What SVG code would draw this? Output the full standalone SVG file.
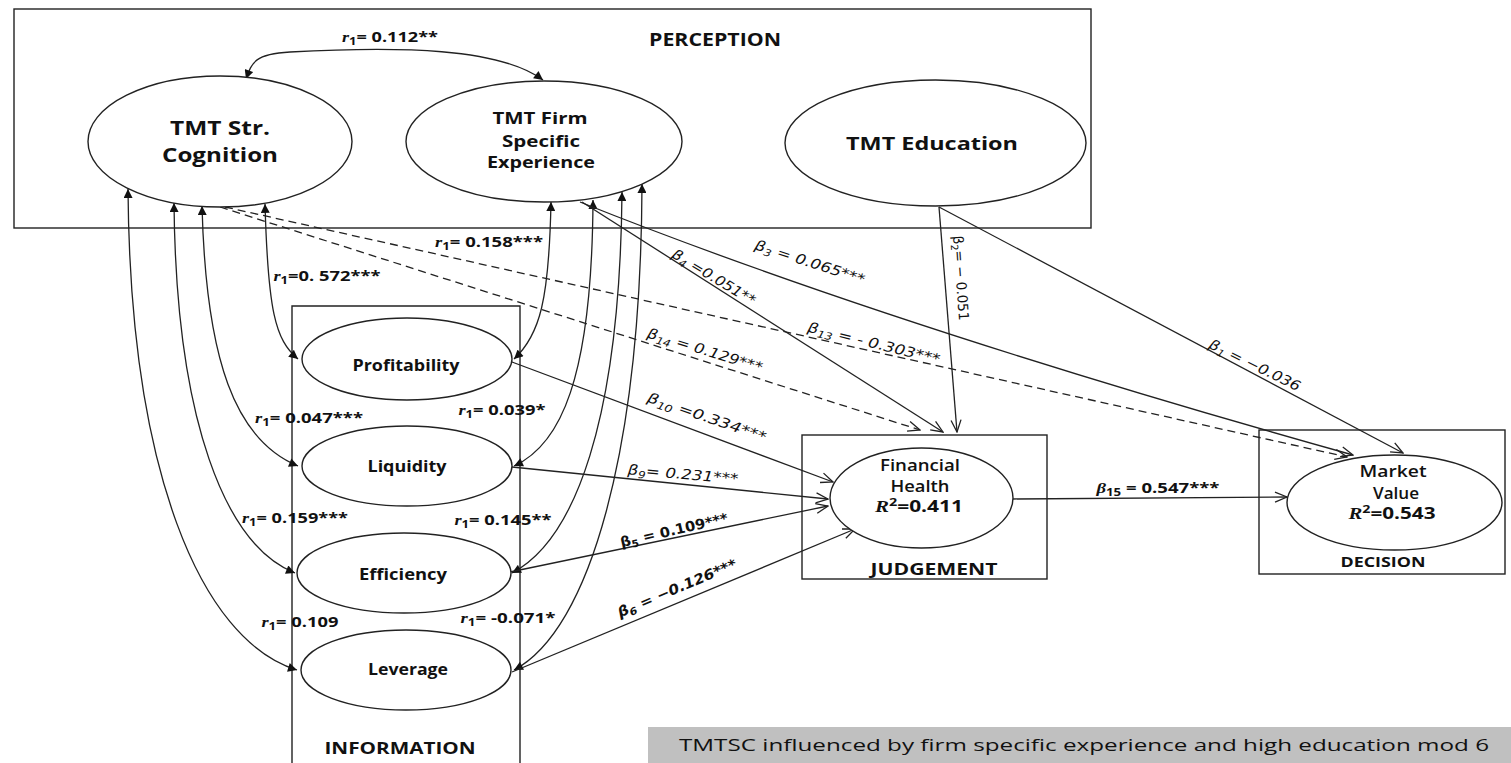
<svg xmlns="http://www.w3.org/2000/svg" width="1511" height="763" viewBox="0 0 1511 763">
  <style>
    .box { fill: none; stroke: #222; stroke-width: 1.4; }
    .node { fill: #fff; stroke: #222; stroke-width: 1.4; }
    .t { font-family: "Open Sans", "Liberation Sans", sans-serif; fill: #111; text-anchor: middle; }
    .b { font-weight: bold; }
    .sb { font-weight: 600; }
    .lab { font-family: "Open Sans", "Liberation Sans", sans-serif; font-weight: bold; font-size: 14px; fill: #111; text-anchor: middle; }
    .beta { font-family: "DejaVu Sans", "Liberation Sans", sans-serif; font-style: italic; font-size: 14px; fill: #111; text-anchor: middle; }
    .var { font-family: "Liberation Serif", serif; font-style: italic; }
    .cor { fill: none; stroke: #222; stroke-width: 1.3; marker-start: url(#tri); marker-end: url(#tri); }
    .path { fill: none; stroke: #222; stroke-width: 1.3; marker-end: url(#open); }
    .dash { stroke-dasharray: 8 5; }
  </style>
  <defs>
    <marker id="tri" viewBox="0 0 10 10" refX="10" refY="5" markerWidth="10" markerHeight="9" markerUnits="userSpaceOnUse" orient="auto-start-reverse">
      <path d="M0,0 L10,5 L0,10 z" fill="#111"/>
    </marker>
    <marker id="open" viewBox="0 0 14 12" refX="13" refY="6" markerWidth="14" markerHeight="12" markerUnits="userSpaceOnUse" orient="auto">
      <path d="M1,1 L13,6 L1,11" fill="none" stroke="#222" stroke-width="1.3"/>
    </marker>
  </defs>
  <rect width="1511" height="763" fill="#fff"/>

  <!-- construct boxes -->
  <g id="perception">
    <rect class="box" x="14" y="9" width="1077" height="219"/>
    <text class="t b" x="715" y="46" font-size="17" textLength="132" lengthAdjust="spacingAndGlyphs">PERCEPTION</text>
  </g>
  <g id="information">
    <path class="box" d="M292,770 V306 H520 V770"/>
    <text class="t b" x="400" y="754" font-size="16" textLength="151" lengthAdjust="spacingAndGlyphs">INFORMATION</text>
  </g>
  <g id="judgement">
    <rect class="box" x="802" y="435" width="245" height="144"/>
    <text class="t b" x="934" y="575" font-size="16" textLength="127" lengthAdjust="spacingAndGlyphs">JUDGEMENT</text>
  </g>
  <g id="decision">
    <rect class="box" x="1259" y="430" width="246" height="144"/>
    <text class="t b" x="1383" y="567" font-size="15" textLength="85" lengthAdjust="spacingAndGlyphs">DECISION</text>
  </g>

  <!-- connectors -->
  <g id="connectors">
    <!-- correlations -->
    <path class="cor" d="M246,79 C252,62 255,54 290,52 C400,46 500,48 543,80"/>
    <path class="cor" d="M265,204 C268,310 275,340 298,359"/>
    <path class="cor" d="M202,206 C206,360 235,440 298,466"/>
    <path class="cor" d="M174,203 C176,420 225,545 295,573"/>
    <path class="cor" d="M128,189 C130,470 200,640 297,670"/>
    <path class="cor" d="M551,202 C549,300 540,335 514,359"/>
    <path class="cor" d="M593,200 C592,380 560,445 514,466"/>
    <path class="cor" d="M622,192 C620,420 575,540 512,573"/>
    <path class="cor" d="M642,184 C641,450 590,630 514,670"/>
    <!-- structural paths -->
    <path class="path" d="M582,202 L943,432"/>
    <path class="path" d="M580,202 Q885,324 1353,455"/>
    <path class="path" d="M939,207 L957,432"/>
    <path class="path" d="M939,207 L1403,453"/>
    <path class="path dash" d="M225,207 L1347,457"/>
    <path class="path dash" d="M220,207 L920,430"/>
    <path class="path" d="M512,362 L833,482"/>
    <path class="path" d="M512,467 L828,499"/>
    <path class="path" d="M510,572 L828,506"/>
    <path class="path" d="M512,672 L855,529"/>
    <path class="path" d="M1013,499 L1287,497"/>
  </g>

  <!-- latent variables -->
  <g id="tmt-cognition">
    <ellipse class="node" cx="220" cy="141.5" rx="132" ry="65.5"/>
    <text class="t b" x="220" y="135" font-size="20" textLength="100" lengthAdjust="spacingAndGlyphs">TMT Str.</text>
    <text class="t b" x="220" y="162" font-size="20" textLength="116" lengthAdjust="spacingAndGlyphs">Cognition</text>
  </g>
  <g id="tmt-experience">
    <ellipse class="node" cx="544" cy="141.5" rx="138" ry="60.5"/>
    <text class="t b" x="540" y="124" font-size="16" textLength="95" lengthAdjust="spacingAndGlyphs">TMT Firm</text>
    <text class="t b" x="541" y="147" font-size="16" textLength="78" lengthAdjust="spacingAndGlyphs">Specific</text>
    <text class="t b" x="541" y="168" font-size="16" textLength="108" lengthAdjust="spacingAndGlyphs">Experience</text>
  </g>
  <g id="tmt-education">
    <ellipse class="node" cx="935.5" cy="143" rx="150.5" ry="63"/>
    <text class="t b" x="932" y="150" font-size="18" textLength="172" lengthAdjust="spacingAndGlyphs">TMT Education</text>
  </g>
  <g id="profitability">
    <ellipse class="node" cx="407" cy="359" rx="105" ry="41"/>
    <text class="t b" x="406" y="371" font-size="16" textLength="107" lengthAdjust="spacingAndGlyphs">Profitability</text>
  </g>
  <g id="liquidity">
    <ellipse class="node" cx="407" cy="466" rx="105" ry="40"/>
    <text class="t b" x="407" y="472" font-size="16" textLength="79" lengthAdjust="spacingAndGlyphs">Liquidity</text>
  </g>
  <g id="efficiency">
    <ellipse class="node" cx="404" cy="573" rx="107" ry="40"/>
    <text class="t b" x="403" y="580" font-size="16" textLength="88" lengthAdjust="spacingAndGlyphs">Efficiency</text>
  </g>
  <g id="leverage">
    <ellipse class="node" cx="406" cy="670" rx="105" ry="40"/>
    <text class="t b" x="408" y="675" font-size="16" textLength="80" lengthAdjust="spacingAndGlyphs">Leverage</text>
  </g>
  <g id="financial-health">
    <ellipse class="node" cx="921.5" cy="498" rx="91.5" ry="50"/>
    <text class="t sb" x="920" y="471" font-size="16" textLength="80" lengthAdjust="spacingAndGlyphs">Financial</text>
    <text class="t sb" x="920" y="492" font-size="16" textLength="59" lengthAdjust="spacingAndGlyphs">Health</text>
    <text class="t b" x="919" y="512" font-size="16" textLength="88" lengthAdjust="spacingAndGlyphs"><tspan class="var">R</tspan><tspan dy="-6" font-size="11">2</tspan><tspan dy="6">=0.411</tspan></text>
  </g>
  <g id="market-value">
    <ellipse class="node" cx="1394.5" cy="502.5" rx="107.5" ry="47.5"/>
    <text class="t sb" x="1393" y="477" font-size="16" textLength="67" lengthAdjust="spacingAndGlyphs">Market</text>
    <text class="t sb" x="1396" y="499" font-size="16" textLength="46" lengthAdjust="spacingAndGlyphs">Value</text>
    <text class="t b" x="1392" y="519" font-size="16" textLength="87" lengthAdjust="spacingAndGlyphs"><tspan class="var">R</tspan><tspan dy="-6" font-size="11">2</tspan><tspan dy="6">=0.543</tspan></text>
  </g>

  <!-- correlation labels -->
  <g id="correlation-labels">
    <text class="lab" x="390" y="42" textLength="96" lengthAdjust="spacingAndGlyphs"><tspan class="var">r</tspan><tspan dy="3" font-size="10">1</tspan><tspan dy="-3">= 0.112**</tspan></text>
    <text class="lab" x="489" y="247" textLength="108" lengthAdjust="spacingAndGlyphs"><tspan class="var">r</tspan><tspan dy="3" font-size="10">1</tspan><tspan dy="-3">= 0.158***</tspan></text>
    <text class="lab" x="327" y="281" textLength="107" lengthAdjust="spacingAndGlyphs"><tspan class="var">r</tspan><tspan dy="3" font-size="10">1</tspan><tspan dy="-3">=0. 572***</tspan></text>
    <text class="lab" x="309" y="423" textLength="108" lengthAdjust="spacingAndGlyphs"><tspan class="var">r</tspan><tspan dy="3" font-size="10">1</tspan><tspan dy="-3">= 0.047***</tspan></text>
    <text class="lab" x="502" y="415" textLength="87" lengthAdjust="spacingAndGlyphs"><tspan class="var">r</tspan><tspan dy="3" font-size="10">1</tspan><tspan dy="-3">= 0.039*</tspan></text>
    <text class="lab" x="295" y="523" textLength="106" lengthAdjust="spacingAndGlyphs"><tspan class="var">r</tspan><tspan dy="3" font-size="10">1</tspan><tspan dy="-3">= 0.159***</tspan></text>
    <text class="lab" x="503" y="525" textLength="97" lengthAdjust="spacingAndGlyphs"><tspan class="var">r</tspan><tspan dy="3" font-size="10">1</tspan><tspan dy="-3">= 0.145**</tspan></text>
    <text class="lab" x="300" y="627" textLength="77" lengthAdjust="spacingAndGlyphs"><tspan class="var">r</tspan><tspan dy="3" font-size="10">1</tspan><tspan dy="-3">= 0.109</tspan></text>
    <text class="lab" x="508" y="623" textLength="95" lengthAdjust="spacingAndGlyphs"><tspan class="var">r</tspan><tspan dy="3" font-size="10">1</tspan><tspan dy="-3">= -0.071*</tspan></text>
  </g>

  <!-- path coefficient labels -->
  <g id="path-labels">
    <text class="beta" transform="translate(810,262) rotate(18)" y="5" textLength="115" lengthAdjust="spacingAndGlyphs">β<tspan dy="3" font-size="10">3</tspan><tspan dy="-3"> = 0.065***</tspan></text>
    <text class="beta" transform="translate(714,277) rotate(31)" y="5" textLength="95" lengthAdjust="spacingAndGlyphs">β<tspan dy="3" font-size="10">4</tspan><tspan dy="-3"> =0.051**</tspan></text>
    <text class="beta" style="font-style:normal" transform="translate(961,278) rotate(86)" y="5" textLength="85" lengthAdjust="spacingAndGlyphs">β<tspan dy="3" font-size="10">2</tspan><tspan dy="-3">= − 0.051</tspan></text>
    <text class="beta" transform="translate(1255,365) rotate(26)" y="5" textLength="100" lengthAdjust="spacingAndGlyphs">β<tspan dy="3" font-size="10">1</tspan><tspan dy="-3"> = −0.036</tspan></text>
    <text class="beta" transform="translate(874,343) rotate(14)" y="5" textLength="136" lengthAdjust="spacingAndGlyphs">β<tspan dy="3" font-size="10">13</tspan><tspan dy="-3"> = - 0.303***</tspan></text>
    <text class="beta" transform="translate(705,350) rotate(17)" y="5" textLength="120" lengthAdjust="spacingAndGlyphs">β<tspan dy="3" font-size="10">14</tspan><tspan dy="-3"> = 0.129***</tspan></text>
    <text class="beta" transform="translate(707,417) rotate(19)" y="5" textLength="125" lengthAdjust="spacingAndGlyphs">β<tspan dy="3" font-size="10">10</tspan><tspan dy="-3">  =0.334***</tspan></text>
    <text class="beta" transform="translate(683,474) rotate(5)" y="5" textLength="111" lengthAdjust="spacingAndGlyphs">β<tspan dy="3" font-size="10">9</tspan><tspan dy="-3">= 0.231***</tspan></text>
    <text class="beta" style="font-style:normal;font-weight:bold" transform="translate(674,530) rotate(-13)" y="5" textLength="110" lengthAdjust="spacingAndGlyphs">β<tspan dy="3" font-size="10">5</tspan><tspan dy="-3"> = 0.109***</tspan></text>
    <text class="beta" style="font-weight:bold" transform="translate(677,588) rotate(-23)" y="5" textLength="128" lengthAdjust="spacingAndGlyphs">β<tspan dy="3" font-size="10">6</tspan><tspan dy="-3"> = −0.126***</tspan></text>
    <text class="lab" x="1158" y="493" textLength="123" lengthAdjust="spacingAndGlyphs"><tspan class="var">β</tspan><tspan dy="3" font-size="10">15</tspan><tspan dy="-3"> = 0.547***</tspan></text>
  </g>

  <!-- caption bar -->
  <g id="caption">
    <rect x="648" y="727" width="863" height="36" fill="#c0c0c0"/>
    <text class="t" x="1084" y="751" font-size="17" textLength="810" lengthAdjust="spacingAndGlyphs">TMTSC influenced by  firm specific experience and high education mod 6</text>
  </g>
</svg>
